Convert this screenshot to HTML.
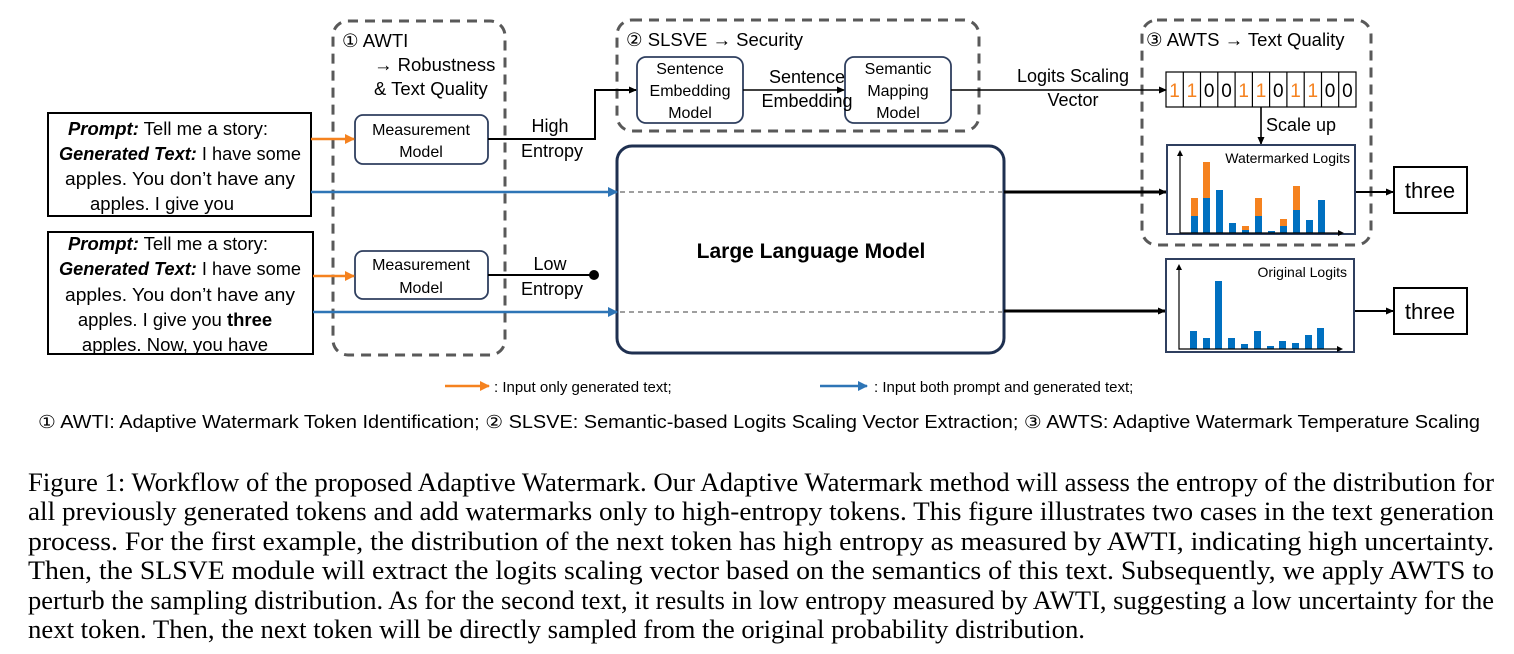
<!DOCTYPE html>
<html><head><meta charset="utf-8"><style>
html,body{margin:0;padding:0;background:#fff}
svg{display:block}
.s{font-family:"Liberation Sans",sans-serif;fill:#000}
.c{font-family:"Liberation Serif",serif;font-size:26px;fill:#000}
</style></head><body>
<svg width="1514" height="654" viewBox="0 0 1514 654" xmlns="http://www.w3.org/2000/svg">
<defs>
<marker id="ak" markerWidth="8" markerHeight="8" refX="7" refY="4" orient="auto" markerUnits="userSpaceOnUse"><path d="M0,0.5 L8,4 L0,7.5z" fill="#000"/></marker>
<marker id="ao" markerWidth="10" markerHeight="10" refX="9" refY="5" orient="auto" markerUnits="userSpaceOnUse"><path d="M0,0 L10,5 L0,10z" fill="#f5821f"/></marker>
<marker id="ab" markerWidth="10" markerHeight="10" refX="9" refY="5" orient="auto" markerUnits="userSpaceOnUse"><path d="M0,0 L10,5 L0,10z" fill="#2e75b6"/></marker>
</defs>
<g fill="none" stroke="#595959" stroke-width="3" stroke-dasharray="10,7">
<rect x="333" y="21" width="172" height="334" rx="15"/>
<rect x="617" y="20" width="362" height="111" rx="15"/>
<rect x="1142" y="20" width="229" height="225" rx="15"/>
</g>
<rect x="48" y="113" width="263" height="103" fill="none" stroke="#000" stroke-width="2"/>
<rect x="48" y="232" width="265" height="122" fill="none" stroke="#000" stroke-width="2"/>
<g class="s" font-size="18.5" text-anchor="middle">
<text x="168" y="135"><tspan font-weight="bold" font-style="italic">Prompt:</tspan> Tell me a story:</text>
<text x="180" y="160" textLength="242" lengthAdjust="spacingAndGlyphs"><tspan font-weight="bold" font-style="italic">Generated Text:</tspan> I have some</text>
<text x="180" y="185" textLength="230" lengthAdjust="spacingAndGlyphs">apples. You don’t have any</text>
<text x="162" y="210">apples. I give you</text>
<text x="168" y="250"><tspan font-weight="bold" font-style="italic">Prompt:</tspan> Tell me a story:</text>
<text x="180" y="275" textLength="242" lengthAdjust="spacingAndGlyphs"><tspan font-weight="bold" font-style="italic">Generated Text:</tspan> I have some</text>
<text x="180" y="301" textLength="230" lengthAdjust="spacingAndGlyphs">apples. You don’t have any</text>
<text x="175" y="326">apples. I give you <tspan font-weight="bold">three</tspan></text>
<text x="175" y="351">apples. Now, you have</text>
</g>
<rect x="355" y="115" width="133" height="49" rx="8" fill="#fff" stroke="#2f3f5f" stroke-width="1.8"/>
<rect x="355" y="251" width="133" height="48" rx="8" fill="#fff" stroke="#2f3f5f" stroke-width="1.8"/>
<rect x="637" y="57" width="106" height="66" rx="9" fill="#fff" stroke="#2f3f5f" stroke-width="1.8"/>
<rect x="845" y="57" width="106" height="66" rx="9" fill="#fff" stroke="#2f3f5f" stroke-width="1.8"/>
<g class="s" font-size="16" text-anchor="middle">
<text x="421" y="135">Measurement</text><text x="421" y="157">Model</text>
<text x="421" y="270">Measurement</text><text x="421" y="293">Model</text>
<text x="690" y="74">Sentence</text><text x="690" y="96">Embedding</text><text x="690" y="118">Model</text>
<text x="898" y="74">Semantic</text><text x="898" y="96">Mapping</text><text x="898" y="118">Model</text>
</g>
<g class="s" font-size="18.5">
<text x="342" y="47">① AWTI</text>
<text x="374" y="71">→ Robustness</text>
<text x="374" y="95">&amp;  Text Quality</text>
<text x="626" y="46">② SLSVE  → Security</text>
<text x="1146" y="46">③ AWTS  → Text Quality</text>
</g>
<rect x="617" y="146" width="387" height="207" rx="15" fill="#fff" stroke="#1f3050" stroke-width="3"/>
<text class="s" x="811" y="258" font-size="21" font-weight="bold" text-anchor="middle">Large Language Model</text>
<g stroke="#666" stroke-width="1.2" stroke-dasharray="5,4">
<line x1="620" y1="192" x2="1002" y2="192"/><line x1="620" y1="312" x2="1002" y2="312"/>
</g>
<line x1="311" y1="139" x2="354" y2="139" stroke="#f5821f" stroke-width="2.5" marker-end="url(#ao)"/>
<line x1="313" y1="276" x2="354" y2="276" stroke="#f5821f" stroke-width="2.5" marker-end="url(#ao)"/>
<line x1="311" y1="192" x2="617" y2="192" stroke="#2e75b6" stroke-width="2.5" marker-end="url(#ab)"/>
<line x1="313" y1="312" x2="617" y2="312" stroke="#2e75b6" stroke-width="2.5" marker-end="url(#ab)"/>
<polyline points="488,139 595,139 595,90 636,90" fill="none" stroke="#000" stroke-width="2" marker-end="url(#ak)"/>
<line x1="488" y1="275" x2="594" y2="275" stroke="#000" stroke-width="2"/>
<circle cx="594" cy="275" r="5" fill="#000"/>
<line x1="743" y1="90" x2="844" y2="90" stroke="#000" stroke-width="1.6" marker-end="url(#ak)"/>
<line x1="951" y1="90" x2="1166" y2="90" stroke="#000" stroke-width="1.6" marker-end="url(#ak)"/>
<line x1="1261" y1="107" x2="1261" y2="144" stroke="#000" stroke-width="1.6" marker-end="url(#ak)"/>
<line x1="1004" y1="192" x2="1166" y2="192" stroke="#000" stroke-width="3" marker-end="url(#ak)"/>
<line x1="1004" y1="311" x2="1165" y2="311" stroke="#000" stroke-width="3" marker-end="url(#ak)"/>
<line x1="1355" y1="192" x2="1393" y2="192" stroke="#000" stroke-width="2" marker-end="url(#ak)"/>
<line x1="1354" y1="311" x2="1393" y2="311" stroke="#000" stroke-width="2" marker-end="url(#ak)"/>
<g class="s" font-size="18" text-anchor="middle">
<text x="550" y="132">High</text><text x="552" y="157">Entropy</text>
<text x="550" y="270">Low</text><text x="552" y="295">Entropy</text>
<text x="807" y="83">Sentence</text><text x="807" y="107">Embedding</text>
<text x="1073" y="82">Logits  Scaling</text><text x="1073" y="106">Vector</text>
</g>
<text class="s" x="1266" y="131" font-size="18">Scale up</text>
<g fill="none" stroke="#000" stroke-width="1.2">
<rect x="1166" y="72" width="190" height="35"/>
<line x1="1183.3" y1="72" x2="1183.3" y2="107"/><line x1="1200.5" y1="72" x2="1200.5" y2="107"/>
<line x1="1217.8" y1="72" x2="1217.8" y2="107"/><line x1="1235.1" y1="72" x2="1235.1" y2="107"/>
<line x1="1252.4" y1="72" x2="1252.4" y2="107"/><line x1="1269.6" y1="72" x2="1269.6" y2="107"/>
<line x1="1286.9" y1="72" x2="1286.9" y2="107"/><line x1="1304.2" y1="72" x2="1304.2" y2="107"/>
<line x1="1321.5" y1="72" x2="1321.5" y2="107"/><line x1="1338.7" y1="72" x2="1338.7" y2="107"/>
</g>
<g class="s" font-size="19" text-anchor="middle">
<text x="1174.6" y="97" fill="#f5821f">1</text><text x="1191.9" y="97" fill="#f5821f">1</text>
<text x="1209.2" y="97">0</text><text x="1226.5" y="97">0</text>
<text x="1243.7" y="97" fill="#f5821f">1</text><text x="1261" y="97" fill="#f5821f">1</text>
<text x="1278.3" y="97">0</text><text x="1295.5" y="97" fill="#f5821f">1</text>
<text x="1312.8" y="97" fill="#f5821f">1</text><text x="1330.1" y="97">0</text><text x="1347.4" y="97">0</text>
</g>
<rect x="1167" y="145" width="188" height="89" fill="#fff" stroke="#2f3f5f" stroke-width="2"/>
<rect x="1166" y="259" width="188" height="93" fill="#fff" stroke="#2f3f5f" stroke-width="2"/>
<text class="s" x="1350" y="163" font-size="14" text-anchor="end">Watermarked Logits</text>
<text class="s" x="1347" y="277" font-size="14" text-anchor="end">Original Logits</text>
<g fill="#f5821f">
<rect x="1191" y="198" width="7" height="18"/><rect x="1203" y="162" width="7" height="36"/>
<rect x="1242" y="226" width="7" height="4"/><rect x="1255" y="198" width="7" height="18"/>
<rect x="1280" y="219" width="7" height="7"/><rect x="1293" y="186" width="7" height="24"/>
</g>
<g fill="#0070c0">
<rect x="1191" y="216" width="7" height="17"/><rect x="1203" y="198" width="7" height="35"/>
<rect x="1216" y="190" width="7" height="43"/><rect x="1229" y="223" width="7" height="10"/>
<rect x="1242" y="230" width="7" height="3"/><rect x="1255" y="216" width="7" height="17"/>
<rect x="1268" y="231" width="7" height="2"/><rect x="1280" y="226" width="7" height="7"/>
<rect x="1293" y="210" width="7" height="23"/><rect x="1306" y="220" width="7" height="13"/>
<rect x="1318" y="200" width="7" height="33"/>
<rect x="1190" y="331" width="7" height="18"/><rect x="1203" y="338" width="7" height="11"/>
<rect x="1215" y="281" width="7" height="68"/><rect x="1228" y="338" width="7" height="11"/>
<rect x="1241" y="344" width="7" height="5"/><rect x="1254" y="331" width="7" height="18"/>
<rect x="1267" y="346" width="7" height="3"/><rect x="1279" y="341" width="7" height="8"/>
<rect x="1292" y="343" width="7" height="6"/><rect x="1305" y="335" width="7" height="14"/>
<rect x="1317" y="328" width="7" height="21"/>
</g>
<g stroke="#000" stroke-width="1.2" fill="none">
<polyline points="1180,153 1180,233 1341,233"/><polyline points="1179,267 1179,349 1340,349"/>
</g>
<g fill="#000">
<path d="M1177,156 L1180,150 L1183,156z"/><path d="M1338,230 L1344,233 L1338,236z"/>
<path d="M1176,270 L1179,264 L1182,270z"/><path d="M1337,346 L1343,349 L1337,352z"/>
</g>
<rect x="1394" y="167" width="73" height="46" fill="#fff" stroke="#000" stroke-width="2"/>
<rect x="1394" y="288" width="73" height="46" fill="#fff" stroke="#000" stroke-width="2"/>
<g class="s" font-size="22" text-anchor="middle"><text x="1430" y="198">three</text><text x="1430" y="319">three</text></g>
<line x1="445" y1="386" x2="489" y2="386" stroke="#f5821f" stroke-width="2.5" marker-end="url(#ao)"/>
<text class="s" x="494" y="392" font-size="15">: Input only generated text;</text>
<line x1="820" y1="386" x2="867" y2="386" stroke="#2e75b6" stroke-width="2.5" marker-end="url(#ab)"/>
<text class="s" x="874" y="392" font-size="15">: Input both prompt and generated text;</text>
<text class="s" x="38" y="428" font-size="18" textLength="1442" lengthAdjust="spacingAndGlyphs">① AWTI: Adaptive Watermark Token Identification; ② SLSVE: Semantic-based Logits Scaling Vector Extraction; ③ AWTS: Adaptive Watermark Temperature Scaling</text>
<text class="c" x="28" y="491" textLength="1466" lengthAdjust="spacingAndGlyphs">Figure 1: Workflow of the proposed Adaptive Watermark. Our Adaptive Watermark method will assess the entropy of the distribution for</text>
<text class="c" x="28" y="520" textLength="1466" lengthAdjust="spacingAndGlyphs">all previously generated tokens and add watermarks only to high-entropy tokens. This figure illustrates two cases in the text generation</text>
<text class="c" x="28" y="550" textLength="1466" lengthAdjust="spacingAndGlyphs">process. For the first example, the distribution of the next token has high entropy as measured by AWTI, indicating high uncertainty.</text>
<text class="c" x="28" y="579" textLength="1466" lengthAdjust="spacingAndGlyphs">Then, the SLSVE module will extract the logits scaling vector based on the semantics of this text. Subsequently, we apply AWTS to</text>
<text class="c" x="28" y="609" textLength="1466" lengthAdjust="spacingAndGlyphs">perturb the sampling distribution. As for the second text, it results in low entropy measured by AWTI, suggesting a low uncertainty for the</text>
<text class="c" x="28" y="638" textLength="1057" lengthAdjust="spacingAndGlyphs">next token. Then, the next token will be directly sampled from the original probability distribution.</text>
</svg>
</body></html>
